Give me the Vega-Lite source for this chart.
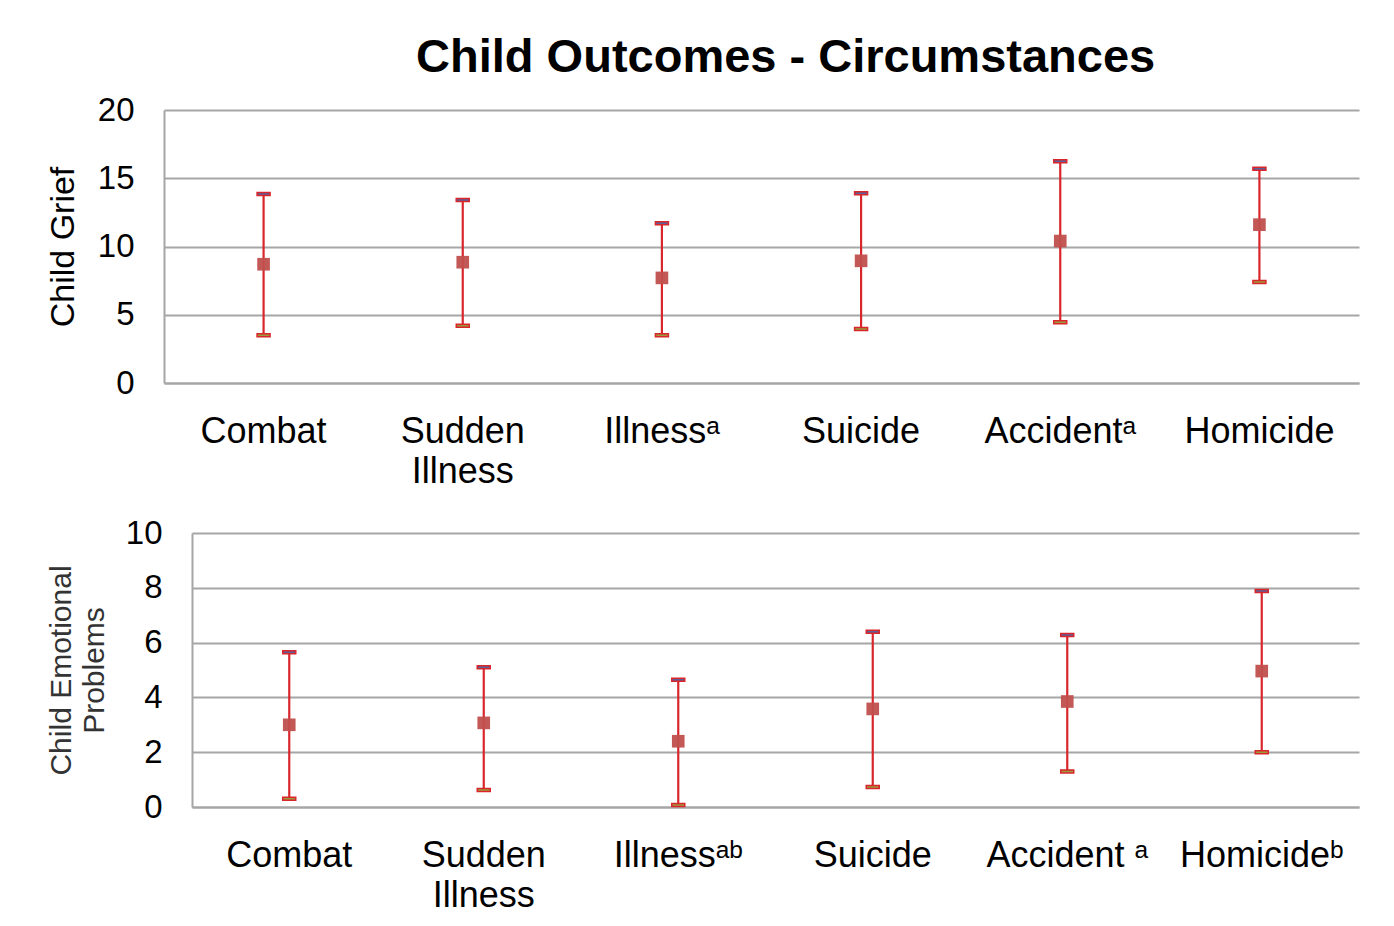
{
  "$schema": "https://vega.github.io/schema/vega-lite/v6.json",
  "background": "white",
  "padding": {"left": 46, "top": 34, "right": 30, "bottom": 10},
  "title": {
    "text": "Child Outcomes - Circumstances",
    "fontSize": 47,
    "fontWeight": "bold",
    "font": "Liberation Sans",
    "color": "#000000",
    "anchor": "middle",
    "offset": 12,
    "dx": 83
  },
  "datasets": {
    "grief": [
      {"cat": "Combat", "lo": 3.5, "mean": 8.7, "hi": 13.85},
      {"cat": "Sudden Illness", "lo": 4.2, "mean": 8.85, "hi": 13.4},
      {"cat": "Illnessᵃ", "lo": 3.5, "mean": 7.7, "hi": 11.7},
      {"cat": "Suicide", "lo": 3.95, "mean": 8.95, "hi": 13.9},
      {"cat": "Accidentᵃ", "lo": 4.45, "mean": 10.4, "hi": 16.25},
      {"cat": "Homicide", "lo": 7.4, "mean": 11.6, "hi": 15.7}
    ],
    "emo": [
      {"cat": "Combat", "lo": 0.3, "mean": 3.0, "hi": 5.65},
      {"cat": "Sudden Illness", "lo": 0.62, "mean": 3.07, "hi": 5.1},
      {"cat": "Illnessᵃᵇ", "lo": 0.07, "mean": 2.4, "hi": 4.64},
      {"cat": "Suicide", "lo": 0.73, "mean": 3.58, "hi": 6.4},
      {"cat": "Accident ᵃ", "lo": 1.3, "mean": 3.85, "hi": 6.28},
      {"cat": "Homicideᵇ", "lo": 2.0, "mean": 4.96, "hi": 7.88}
    ]
  },
  "config": {
    "view": {"stroke": null},
    "font": "Liberation Sans",
    "axis": {
      "labelFont": "Liberation Sans",
      "titleFont": "Liberation Sans",
      "labelColor": "#000000",
      "titleColor": "#000000",
      "ticks": false,
      "gridColor": "#a6a6a6",
      "gridWidth": 2,
      "gridOpacity": 1,
      "domainColor": "#a6a6a6",
      "domainWidth": 2
    }
  },
  "vconcat": [
    {
      "width": 1195,
      "height": 273,
      "data": {"name": "grief"},
      "encoding": {
        "x": {
          "field": "cat", "type": "nominal", "sort": null,
          "scale": {"paddingInner": 0, "paddingOuter": 0},
          "axis": {
            "title": null, "labelAngle": 0, "labelFontSize": 36, "labelPadding": 31,
            "labelLineHeight": 40, "grid": false, "labelBaseline": "top",
            "labelExpr": "datum.value == 'Sudden Illness' ? ['Sudden', 'Illness'] : datum.value"
          }
        }
      },
      "layer": [
        {
          "mark": {"type": "rule", "color": "#d9262b", "strokeWidth": 2.2},
          "encoding": {
            "y": {"field": "lo", "type": "quantitative",
              "scale": {"domain": [0, 20]},
              "axis": {"title": "Child Grief", "titleFontSize": 34, "titleFontWeight": "normal",
                "labelFontSize": 33, "labelPadding": 30, "titlePadding": 17,
                "values": [0, 5, 10, 15, 20]}},
            "y2": {"field": "hi"}
          }
        },
        {
          "mark": {"type": "tick", "orient": "horizontal", "size": 13, "thickness": 3, "color": "#5b5f9a", "stroke": "#d9262b", "strokeWidth": 1.5, "opacity": 1},
          "encoding": {"y": {"field": "hi", "type": "quantitative"}}
        },
        {
          "mark": {"type": "tick", "orient": "horizontal", "size": 13, "thickness": 3, "color": "#9a9a3a", "stroke": "#d9262b", "strokeWidth": 1.5, "opacity": 1},
          "encoding": {"y": {"field": "lo", "type": "quantitative"}}
        },
        {
          "mark": {"type": "point", "shape": "square", "filled": true, "size": 160, "color": "#c0504d", "opacity": 0.95},
          "encoding": {"y": {"field": "mean", "type": "quantitative"}}
        }
      ]
    },
    {
      "hconcat": [
        {
          "width": 1,
          "height": 274,
          "data": {"name": "emo"},
          "mark": {"type": "point", "opacity": 0},
          "encoding": {}
        },
        {
          "width": 1167,
          "height": 274,
          "data": {"name": "emo"},
          "encoding": {
            "x": {
              "field": "cat", "type": "nominal", "sort": null,
              "scale": {"paddingInner": 0, "paddingOuter": 0},
              "axis": {
                "title": null, "labelAngle": 0, "labelFontSize": 36, "labelPadding": 31,
                "labelLineHeight": 40, "grid": false, "labelBaseline": "top",
                "labelExpr": "datum.value == 'Sudden Illness' ? ['Sudden', 'Illness'] : datum.value"
              }
            }
          },
          "layer": [
            {
              "mark": {"type": "rule", "color": "#d9262b", "strokeWidth": 2.2},
              "encoding": {
                "y": {"field": "lo", "type": "quantitative",
                  "scale": {"domain": [0, 10]},
                  "axis": {"title": ["Child Emotional", "Problems"], "titleFontSize": 30, "titleFontWeight": "normal",
                    "titleLineHeight": 33, "titleColor": "#333333",
                    "labelFontSize": 33, "labelPadding": 30, "titlePadding": 16,
                    "values": [0, 2, 4, 6, 8, 10]}},
                "y2": {"field": "hi"}
              }
            },
            {
              "mark": {"type": "tick", "orient": "horizontal", "size": 13, "thickness": 3, "color": "#5b5f9a", "stroke": "#d9262b", "strokeWidth": 1.5, "opacity": 1},
              "encoding": {"y": {"field": "hi", "type": "quantitative"}}
            },
            {
              "mark": {"type": "tick", "orient": "horizontal", "size": 13, "thickness": 3, "color": "#9a9a3a", "stroke": "#d9262b", "strokeWidth": 1.5, "opacity": 1},
              "encoding": {"y": {"field": "lo", "type": "quantitative"}}
            },
            {
              "mark": {"type": "point", "shape": "square", "filled": true, "size": 160, "color": "#c0504d", "opacity": 0.95},
              "encoding": {"y": {"field": "mean", "type": "quantitative"}}
            }
          ]
        }
      ],
      "bounds": "flush",
      "spacing": 27
    }
  ],
  "spacing": 28
}
